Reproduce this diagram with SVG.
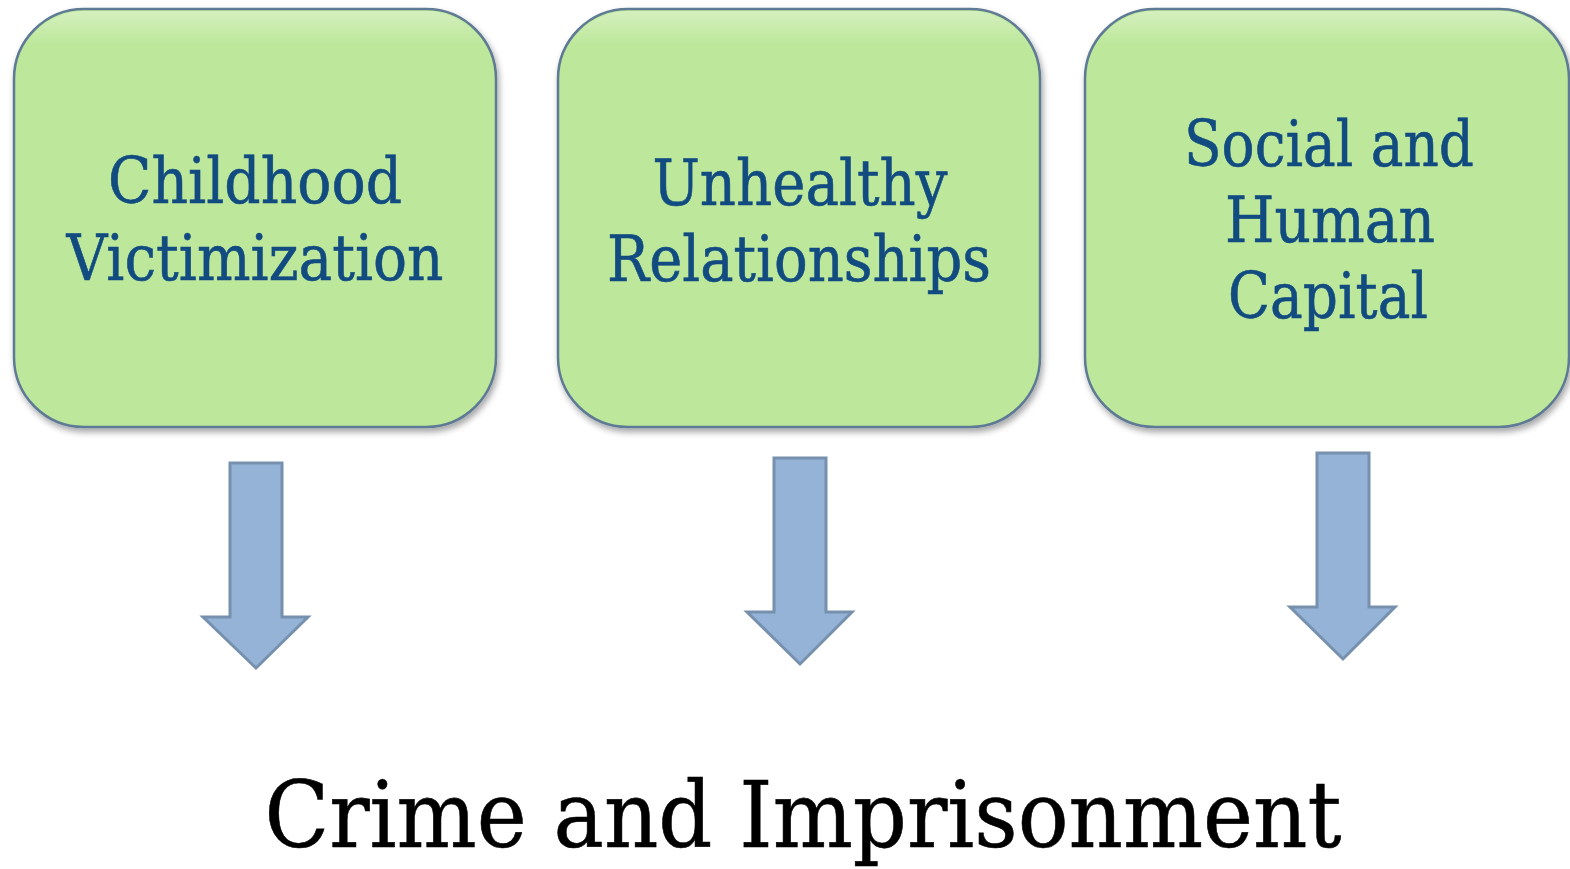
<svg xmlns="http://www.w3.org/2000/svg" width="1570" height="869" viewBox="0 0 1570 869">
<defs>
<style>
.box{fill:#BDE89B;stroke:#5E7A94;stroke-width:2.5;filter:url(#sh)}
.lbl{font-family:"DejaVu Serif","Liberation Serif",serif;font-size:63px;fill:#114B80;stroke:#114B80;stroke-width:0.6;text-anchor:middle}
.arr{fill:#95B3D7;stroke:#7690AE;stroke-width:3;stroke-linejoin:miter}
.title{font-family:"DejaVu Serif","Liberation Serif",serif;font-size:92px;fill:#000;stroke:#000;stroke-width:0.6;text-anchor:middle}
</style>
<filter id="sh" x="-10%" y="-10%" width="125%" height="125%">
<feDropShadow dx="2" dy="4" stdDeviation="3" flood-color="#000" flood-opacity="0.35"/>
</filter>
<linearGradient id="hl" x1="0" y1="0" x2="0" y2="1">
<stop offset="0" stop-color="#fff" stop-opacity="0.35"/>
<stop offset="0.08" stop-color="#fff" stop-opacity="0"/>
</linearGradient>
</defs>
<rect width="1570" height="869" fill="#fff"/>
<g id="node-childhood">
<rect class="box" x="14" y="9" width="482" height="418" rx="70"/>
<rect x="16" y="11" width="478" height="414" rx="68" fill="url(#hl)"/>
<text class="lbl" x="255" y="203" textLength="294" lengthAdjust="spacingAndGlyphs">Childhood</text>
<text class="lbl" x="255" y="280" textLength="377" lengthAdjust="spacingAndGlyphs">Victimization</text>
</g>
<g id="node-unhealthy">
<rect class="box" x="558" y="9" width="482" height="418" rx="70"/>
<rect x="560" y="11" width="478" height="414" rx="68" fill="url(#hl)"/>
<text class="lbl" x="800" y="205" textLength="295" lengthAdjust="spacingAndGlyphs">Unhealthy</text>
<text class="lbl" x="799" y="281" textLength="384" lengthAdjust="spacingAndGlyphs">Relationships</text>
</g>
<g id="node-capital">
<rect class="box" x="1085" y="9" width="484" height="418" rx="70"/>
<rect x="1087" y="11" width="480" height="414" rx="68" fill="url(#hl)"/>
<text class="lbl" x="1329" y="166" textLength="290" lengthAdjust="spacingAndGlyphs">Social and</text>
<text class="lbl" x="1330" y="242" textLength="210" lengthAdjust="spacingAndGlyphs">Human</text>
<text class="lbl" x="1328" y="318" textLength="200" lengthAdjust="spacingAndGlyphs">Capital</text>
</g>
<g id="connectors">
<polygon class="arr" points="230,463 282,463 282,617 308,617 256,668 203,617 230,617"/>
<polygon class="arr" points="774,458 826,458 826,612 852,612 800,664 747,612 774,612"/>
<polygon class="arr" points="1317,453 1369,453 1369,607 1395,607 1343,659 1290,607 1317,607"/>
</g>
<g id="node-crime">
<text class="title" x="803" y="847" textLength="1077" lengthAdjust="spacingAndGlyphs">Crime and Imprisonment</text>
</g>
</svg>
